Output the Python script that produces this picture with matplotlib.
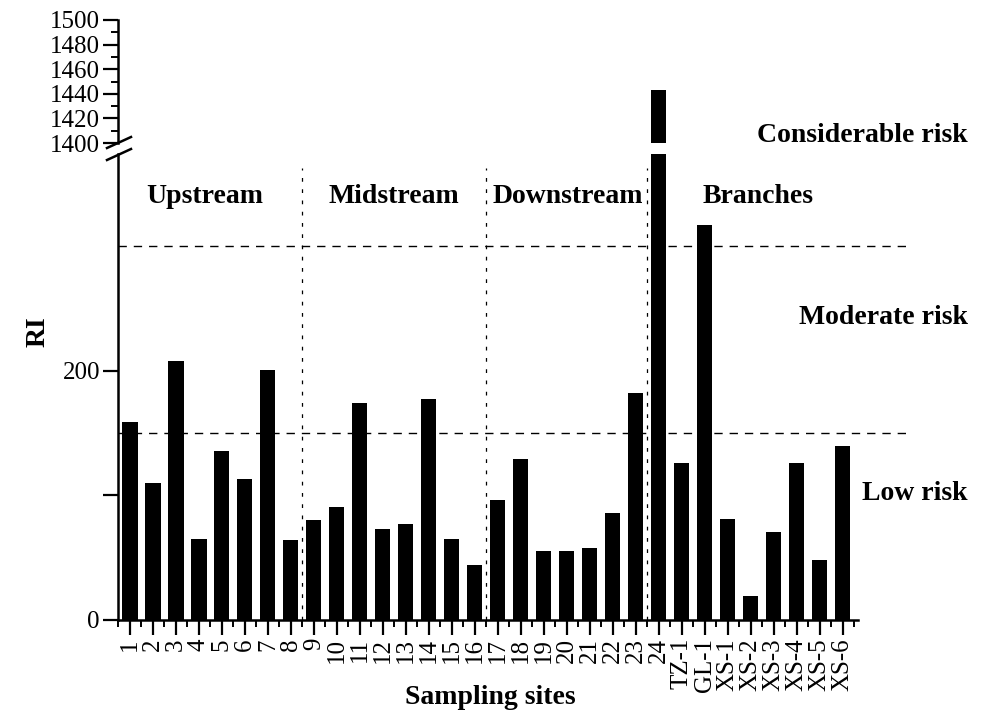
import matplotlib.pyplot as plt
import numpy as np
from matplotlib.lines import Line2D

plt.rcParams['font.family'] = ['Liberation Serif', 'DejaVu Serif']

# Sampling sites and RI values
sites = [str(i) for i in range(1, 25)] + ["TZ-1", "GL-1", "XS-1", "XS-2", "XS-3", "XS-4", "XS-5", "XS-6"]
ri = [159, 110, 208, 65, 136, 113, 201, 64,
      80, 91, 174, 73, 77, 177, 65, 44,
      96, 129, 55, 55, 58, 86, 182, 1443,
      126, 317, 81, 19, 71, 126, 48, 140]

groups = ["Upstream", "Midstream", "Downstream", "Branches"]
group_x = [4.26, 12.5, 20.05, 28.3]
dividers = [8.5, 16.5, 23.5]
thresholds = [150, 300]
risk_labels = ["Considerable risk", "Moderate risk", "Low risk"]
risk_y = [136, 318, 494]  # pixel rows of the risk labels

W, H = 987, 717
fig = plt.figure(figsize=(W / 100, H / 100), dpi=100)
left, right = 118 / W, 907 / W
ax_top = fig.add_axes([left, 1 - 143 / H, right - left, 123 / H])
ax = fig.add_axes([left, 1 - 620 / H, right - left, 466 / H])

x = np.arange(1, len(sites) + 1)
xlim = (0.48, 34.8)

for a in (ax, ax_top):
    a.bar(x, ri, width=0.66, color='black')
    a.set_xlim(*xlim)
    a.spines['top'].set_visible(False)
    a.spines['right'].set_visible(False)
    for s in a.spines.values():
        s.set_linewidth(1.8)

# lower panel
ax.set_ylim(0, 374)
ax.set_yticks([0, 100, 200])
ax.set_yticklabels(['0', '', '200'])
ax.spines['bottom'].set_bounds(0.48, 32.67)
ax.set_xticks(x)
ax.set_xticklabels(sites, rotation=90)
ax.set_xticks(np.arange(0.5, 33, 1), minor=True)
ax.tick_params(axis='both', which='major', direction='out', length=11, width=1.6, labelsize=18, pad=2)
ax.tick_params(axis='x', which='minor', direction='out', length=5, width=1.4)

for t in thresholds:
    ax.axhline(t, color='black', lw=1.0, ls=(0, (6, 5)))
ax.vlines(dividers, 0, 363, colors='black', lw=0.9, linestyles=(0, (3, 6)))

for g, gx in zip(groups, group_x):
    ax.text(gx, 340, g, ha='center', va='center', fontsize=20, fontweight='bold')

# upper panel
ax_top.set_ylim(1400, 1500)
ax_top.spines['bottom'].set_visible(False)
ax_top.set_xticks([])
ax_top.set_yticks(np.arange(1400, 1501, 20))
ax_top.set_yticks(np.arange(1410, 1500, 20), minor=True)
ax_top.tick_params(axis='y', which='major', direction='out', length=11, width=1.6, labelsize=18, pad=2)
ax_top.tick_params(axis='y', which='minor', direction='out', length=5, width=1.4)

# break marks on the y axis
for y0 in (148, 160):
    fig.add_artist(Line2D([107 / W, 131 / W], [1 - y0 / H, 1 - (y0 - 11) / H],
                          transform=fig.transFigure, color='black', lw=1.8))

for lab, ry in zip(risk_labels, risk_y):
    fig.text(968 / W, 1 - ry / H, lab, ha='right', va='center', fontsize=20, fontweight='bold')

fig.text(38 / W, 1 - 332 / H, 'RI', rotation=90, ha='center', va='center', fontsize=20, fontweight='bold')
fig.text(490 / W, 1 - 697 / H, 'Sampling sites', ha='center', va='center', fontsize=20, fontweight='bold')

fig.savefig('out.png', dpi=100)
